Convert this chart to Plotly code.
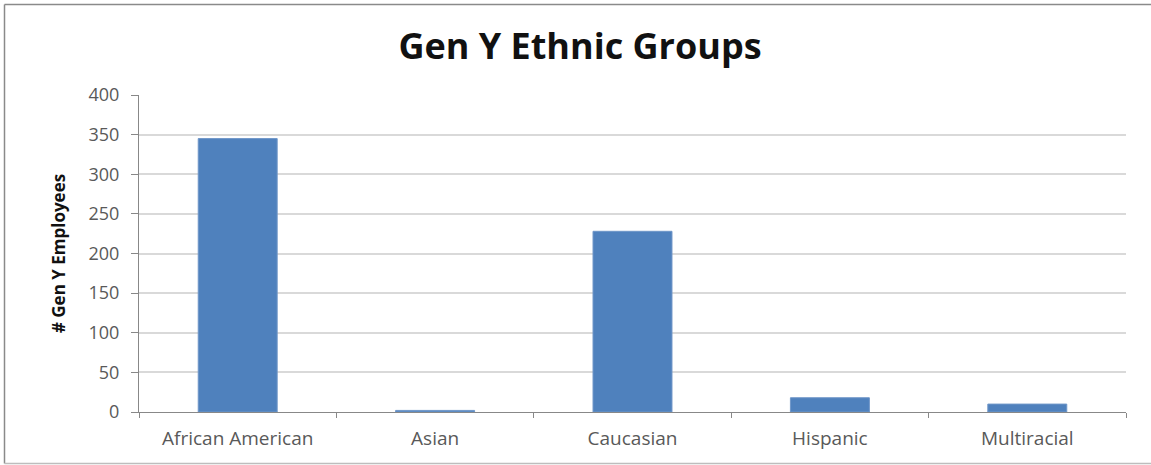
import plotly.graph_objects as go

categories = ["African American", "Asian", "Caucasian", "Hispanic", "Multiracial"]
employees = [345, 2, 228, 18, 10]
y_ticks = [0, 50, 100, 150, 200, 250, 300, 350, 400]

W, H = 1151, 465
L, R, T, B = 139, 25, 95, 53
pw, ph = W - L - R, H - T - B

def px(x):
    return (x - L) / pw

def py(y):
    return (H - B - y) / ph

fig = go.Figure(go.Bar(
    x=categories, y=employees,
    marker=dict(color="#4F81BD", line=dict(color="#6F96C8", width=1)),
    width=0.4,
))

fig.update_layout(
    width=W, height=H,
    margin=dict(l=L, r=R, t=T, b=B),
    paper_bgcolor="white", plot_bgcolor="white",
    showlegend=False,
    title=dict(text="<b>Gen Y Ethnic Groups</b>", xref="container", x=580 / W, xanchor="center",
               yref="container", y=1 - 46 / H, yanchor="middle",
               font=dict(family="Open Sans", size=36, color="#111111")),
    font=dict(family="Open Sans", color="#595959"),
    shapes=[
        dict(type="line", xref="paper", yref="paper", x0=px(4.5), x1=px(1160), y0=py(4.5), y1=py(4.5),
             line=dict(color="#8a8a8a", width=1.5)),
        dict(type="line", xref="paper", yref="paper", x0=px(4.5), x1=px(4.5), y0=py(4.5), y1=py(463.5),
             line=dict(color="#8a8a8a", width=1.5)),
        dict(type="line", xref="paper", yref="paper", x0=px(4.5), x1=px(1160), y0=py(463.5), y1=py(463.5),
             line=dict(color="#bdbdbd", width=1.5)),
    ],
)

fig.update_xaxes(
    type="category", tickson="boundaries", ticks="outside", ticklen=5, tickcolor="#888888",
    showline=True, linecolor="#888888", linewidth=1, showgrid=False,
    ticklabelstandoff=9,
    tickfont=dict(family="Open Sans", size=19, color="#595959"),
)
fig.update_yaxes(
    range=[0, 400], tickvals=y_ticks, ticks="outside", ticklen=7, tickcolor="#888888",
    showline=True, linecolor="#888888", linewidth=1,
    showgrid=True, gridcolor="#d9d9d9", gridwidth=1.5, zeroline=False,
    ticklabelstandoff=8,
    tickfont=dict(family="Open Sans", size=18, color="#595959"),
    title=dict(text="<b># Gen Y Employees</b>", standoff=18,
               font=dict(family="Open Sans", size=17, color="#111111")),
)

fig.write_html("out.html")
